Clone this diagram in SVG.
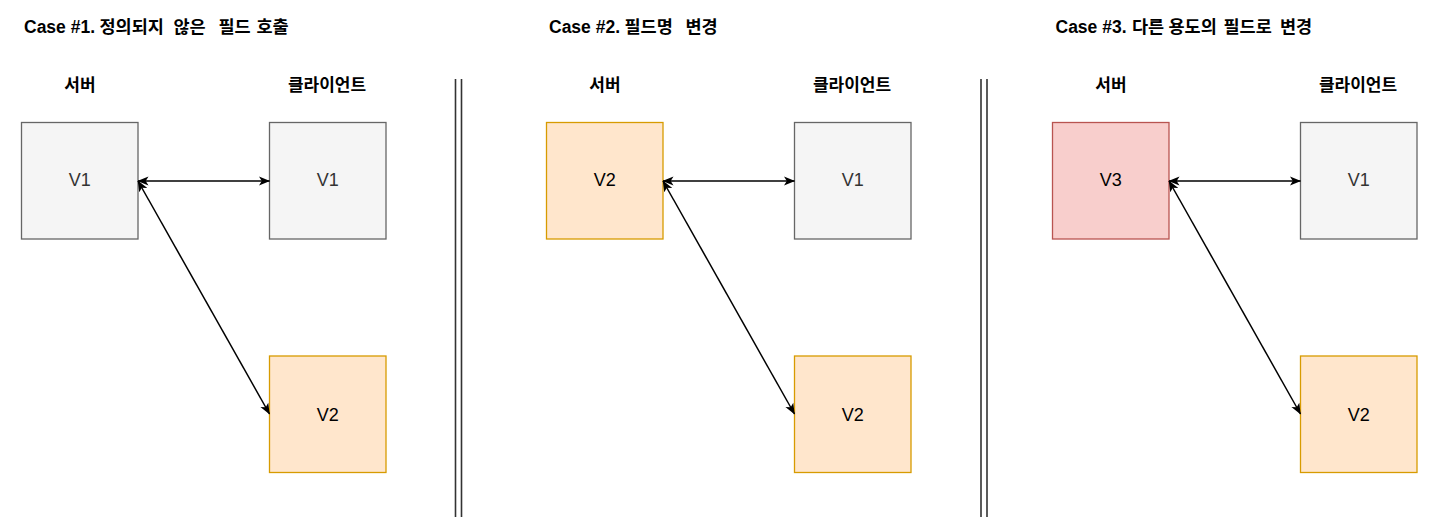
<svg xmlns="http://www.w3.org/2000/svg" width="1440" height="526" viewBox="0 0 1440 526">
<defs>
<style>
.title{font-family:"Liberation Sans","Noto Sans CJK KR",sans-serif;font-weight:bold;font-size:17.5px;fill:#000}
.ko{font-family:"Noto Sans CJK KR","Liberation Sans",sans-serif;font-size:17.5px}
.head{font-family:"Noto Sans CJK KR",sans-serif;font-weight:bold;font-size:17px;text-anchor:middle;fill:#000}
.lbl{font-family:"Liberation Sans",sans-serif;font-size:18px;text-anchor:middle;fill:#000}
.gray rect{fill:#f5f5f5;stroke:#666666;stroke-width:1.3}
.gray text{fill:#333333}
.orange rect{fill:#ffe6cc;stroke:#d79b00;stroke-width:1.3}
.red rect{fill:#f8cecc;stroke:#b85450;stroke-width:1.3}
.conn line{stroke:#000;stroke-width:1.5;fill:none;marker-start:url(#ah);marker-end:url(#ah)}
.div line{stroke:#333333;stroke-width:1.6}
</style>
<marker id="ah" viewBox="0 0 11 10" markerWidth="11" markerHeight="10" refX="10.5" refY="5" orient="auto-start-reverse" markerUnits="userSpaceOnUse">
<path d="M0,0.5 L11,5 L0,9.5 L2.8,5 Z" fill="#000"/>
</marker>
</defs>
<rect width="1440" height="526" fill="#ffffff"/>

<!-- Case 1 -->
<g id="case1">
<g id="title1"><text class="title" x="24" y="33">Case #1. <tspan class="ko" x="99.5">정의되지</tspan> <tspan class="ko" x="173.5">않은</tspan> <tspan class="ko" x="218.5">필드</tspan> <tspan class="ko" x="256.5">호출</tspan></text></g>
<g id="head1-server"><text class="head" x="80" y="91">서버</text></g>
<g id="head1-client"><text class="head" x="327" y="91">클라이언트</text></g>
<g id="c1-server" class="gray"><rect x="21.5" y="122.5" width="116.5" height="116.5"/><text class="lbl" x="79.7" y="186">V1</text></g>
<g id="c1-client-v1" class="gray"><rect x="269.5" y="122.5" width="116.5" height="116.5"/><text class="lbl" x="327.7" y="186">V1</text></g>
<g id="c1-client-v2" class="orange"><rect x="269.5" y="356" width="116.5" height="116.5"/><text class="lbl" x="327.7" y="420.5">V2</text></g>
</g>

<!-- Case 2 -->
<g id="case2">
<g id="title2"><text class="title" x="549" y="33">Case #2. <tspan class="ko" x="624.5">필드명</tspan> <tspan class="ko" x="685.5">변경</tspan></text></g>
<g id="head2-server"><text class="head" x="605" y="91">서버</text></g>
<g id="head2-client"><text class="head" x="852" y="91">클라이언트</text></g>
<g id="c2-server" class="orange"><rect x="546.5" y="122.5" width="116.5" height="116.5"/><text class="lbl" x="604.7" y="186">V2</text></g>
<g id="c2-client-v1" class="gray"><rect x="794.5" y="122.5" width="116.5" height="116.5"/><text class="lbl" x="852.7" y="186">V1</text></g>
<g id="c2-client-v2" class="orange"><rect x="794.5" y="356" width="116.5" height="116.5"/><text class="lbl" x="852.7" y="420.5">V2</text></g>
</g>

<!-- Case 3 -->
<g id="case3">
<g id="title3"><text class="title" x="1055.5" y="33">Case #3. <tspan class="ko" x="1132">다른</tspan> <tspan class="ko" x="1168.5">용도의</tspan> <tspan class="ko" x="1223.5">필드로</tspan> <tspan class="ko" x="1280">변경</tspan></text></g>
<g id="head3-server"><text class="head" x="1111" y="91">서버</text></g>
<g id="head3-client"><text class="head" x="1358" y="91">클라이언트</text></g>
<g id="c3-server" class="red"><rect x="1052.5" y="122.5" width="116.5" height="116.5"/><text class="lbl" x="1110.7" y="186">V3</text></g>
<g id="c3-client-v1" class="gray"><rect x="1300.5" y="122.5" width="116.5" height="116.5"/><text class="lbl" x="1358.7" y="186">V1</text></g>
<g id="c3-client-v2" class="orange"><rect x="1300.5" y="356" width="116.5" height="116.5"/><text class="lbl" x="1358.7" y="420.5">V2</text></g>
</g>

<!-- Connectors -->
<g id="connectors" class="conn">
<line x1="138" y1="181" x2="269.5" y2="181"/>
<line x1="138" y1="181" x2="269.5" y2="414"/>
<line x1="663" y1="181" x2="794.5" y2="181"/>
<line x1="663" y1="181" x2="794.5" y2="414"/>
<line x1="1169" y1="181" x2="1300.5" y2="181"/>
<line x1="1169" y1="181" x2="1300.5" y2="414"/>
</g>

<!-- Dividers -->
<g id="dividers" class="div">
<line x1="455.5" y1="79" x2="455.5" y2="517"/>
<line x1="461.5" y1="79" x2="461.5" y2="517"/>
<line x1="981" y1="79" x2="981" y2="517"/>
<line x1="987" y1="79" x2="987" y2="517"/>
</g>
</svg>
